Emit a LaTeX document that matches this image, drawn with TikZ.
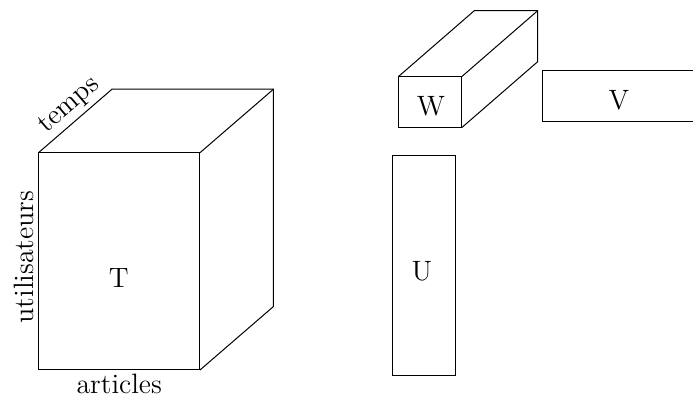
\documentclass[tikz,border=0pt]{standalone}
\usepackage{tikz}
\usetikzlibrary{positioning}

\begin{document}
\begin{tikzpicture}[
  x=0.5pt, y=-0.5pt,
  edge/.style={draw=black, line width=0.5pt},
  lbl/.style={font=\fontsize{14}{16}\selectfont, inner sep=2pt}
]
\useasboundingbox (0,0) rectangle (693,399);

% --- TENSEUR T ------------------------------------------------------
\coordinate (tfl) at (38.5,152.7);
\coordinate (tfr) at (200,152.7);
\coordinate (tbl) at (38.5,370);
\coordinate (tbr) at (200,370);
\draw[edge] (tfl) rectangle (tbr);
\draw[edge] (tfl) -- ++(73.5,-63.5) coordinate (tkl)
  -- ++(161.5,0) coordinate (tkr)
  -- ++(0,217.3) -- (tbr);
\draw[edge] (tfr) -- (tkr);
\node[lbl] (T) at (118.7,278.5) {T};
\path (tfl) -- (tkl) node[lbl, pos=0.56, sloped, above] (temps) {temps};
\path (tbl) -- (tfl) node[lbl, pos=0.52, sloped, above] (users) {utilisateurs};
\path (tbl) -- (tbr) node[lbl, midway, below] (items) {articles};

% --- FACTEUR W ------------------------------------------------------
\coordinate (wfl) at (398.3,76.7);
\coordinate (wfr) at (461.7,76.7);
\coordinate (wbr) at (461.7,127.7);
\draw[edge] (wfl) rectangle (wbr);
\draw[edge] (wfl) -- ++(76,-66) -- ++(63.4,0) coordinate (wkr) -- ++(0,51) -- (wbr);
\draw[edge] (wfr) -- (wkr);
\node[lbl] (W) at (431,106) {W};

% --- FACTEUR V ------------------------------------------------------
\draw[edge] (542.3,70.7) rectangle (698,122);
\node[lbl] (V) at (619,100) {V};

% --- FACTEUR U ------------------------------------------------------
\draw[edge] (392.3,155.7) rectangle (455.7,376);
\node[lbl] (U) at (422,271.7) {U};

\end{tikzpicture}
\end{document}
